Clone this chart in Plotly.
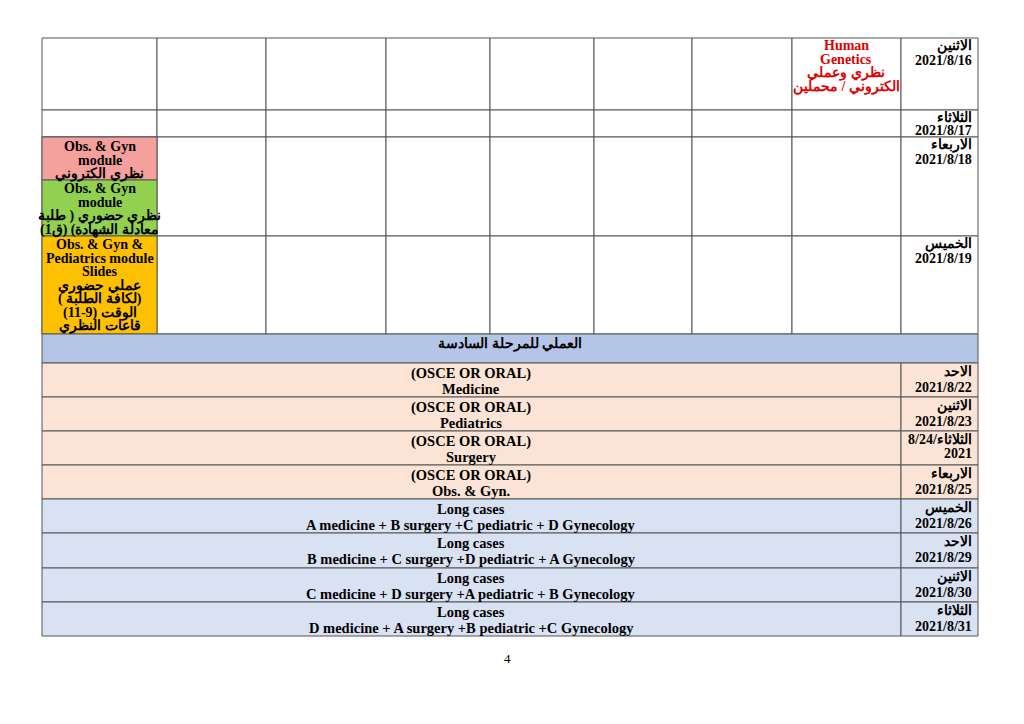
import plotly.graph_objects as go

# ---- data ----
top_days = ["الاثنين", "الثلاثاء", "الاربعاء", "الخميس"]
top_dates = ["2021/8/16", "2021/8/17", "2021/8/18", "2021/8/19"]
genetics_lines = ["Human", "Genetics", "نظري وعملي", "الكتروني / محملين"]
pink_lines = ["Obs. & Gyn", "module", "نظري الكتروني"]
green_lines = ["Obs. & Gyn", "module", "نظري حضوري ( طلبة", "معادلة الشهادة) (ق1)"]
orange_lines = ["Obs. & Gyn &", "Pediatrics module", "Slides", "عملي حضوري", "( لكافة الطلبة)", "الوقت (9-11)", "قاعات النظري"]
band_title = "العملي للمرحلة السادسة"
bottom_days = ["الاحد", "الاثنين", "الثلاثاء", "الاربعاء", "الخميس", "الاحد", "الاثنين", "الثلاثاء"]
bottom_dates = ["2021/8/22", "2021/8/23", "/8/24", "2021/8/25", "2021/8/26", "2021/8/29", "2021/8/30", "2021/8/31"]
bottom_line1 = ["(OSCE OR ORAL)"] * 4 + ["Long cases"] * 4
bottom_line2 = ["Medicine", "Pediatrics", "Surgery", "Obs. & Gyn.",
                "A medicine + B surgery +C pediatric + D Gynecology",
                "B medicine + C surgery +D pediatric + A Gynecology",
                "C medicine + D surgery +A pediatric + B Gynecology",
                "D medicine + A surgery +B pediatric +C Gynecology"]
page_number = "4"

# ---- layout geometry ----
col_x = [42, 157, 266, 386, 490, 594, 692, 792, 901, 978]
top_rows = [38, 110, 137, 236, 334]
bottom_rows = [363, 397, 431, 465, 499, 533, 568, 602, 636]
FONT = "Liberation Serif"
LC = "#555"

shapes, ann = [], []

def rect(x0, y0, x1, y1, fill="white"):
    shapes.append(dict(type="rect", x0=x0, y0=y0, x1=x1, y1=y1, fillcolor=fill,
                       line=dict(color=LC, width=1), layer="below"))

def text_lines(x, y, lines, color="black", size=14, lh=13.5, anchor="center"):
    for i, t in enumerate(lines):
        ann.append(dict(x=x, y=y + i * lh, text="<b>%s</b>" % t, showarrow=False,
                        xanchor=anchor, yanchor="top", font=dict(family=FONT, size=size, color=color)))

for r in range(4):
    for c in range(9):
        rect(col_x[c], top_rows[r], col_x[c + 1], top_rows[r + 1])
rect(42, 137, 157, 180, "#F4A09C")
rect(42, 180, 157, 236, "#92D050")
rect(42, 236, 157, 334, "#FFC000")
text_lines(99.5, 137, pink_lines, lh=13.5)
text_lines(99.5, 179, green_lines, lh=13.5)
text_lines(99.5, 235, orange_lines, lh=13.5)
text_lines(846, 36, genetics_lines, color="#E00000", lh=13.5)

for r in range(4):
    ys = top_rows[r] - 2
    lh = 13 if r == 1 else 15
    text_lines(974, ys, [top_days[r], top_dates[r]], anchor="right", lh=lh)

rect(42, 334, 978, 363, "#B4C6E7")
text_lines(510, 334, [band_title])

for i in range(8):
    fill = "#FBE4D5" if i < 4 else "#D9E2F3"
    y0, y1 = bottom_rows[i], bottom_rows[i + 1]
    rect(42, y0, 901, y1, fill)
    rect(901, y0, 978, y1, fill)
    text_lines(471, y0, [bottom_line1[i], bottom_line2[i]], lh=16, size=14.5)
    if i == 2:
        text_lines(974, y0 - 1, [bottom_days[i] + bottom_dates[i], "2021"], anchor="right", lh=14)
    else:
        text_lines(974, y0 - 1, [bottom_days[i], bottom_dates[i]], anchor="right", lh=16)

ann.append(dict(x=507, y=658, text=page_number, showarrow=False, yanchor="middle",
                font=dict(family=FONT, size=13, color="black")))

fig = go.Figure()
fig.update_layout(width=1024, height=724, margin=dict(l=0, r=0, t=0, b=0),
                  plot_bgcolor="white", paper_bgcolor="white",
                  xaxis=dict(range=[8, 1032], visible=False, fixedrange=True),
                  yaxis=dict(range=[732, 8], visible=False, fixedrange=True),
                  shapes=shapes, annotations=ann, showlegend=False)
fig.write_html("out.html")
